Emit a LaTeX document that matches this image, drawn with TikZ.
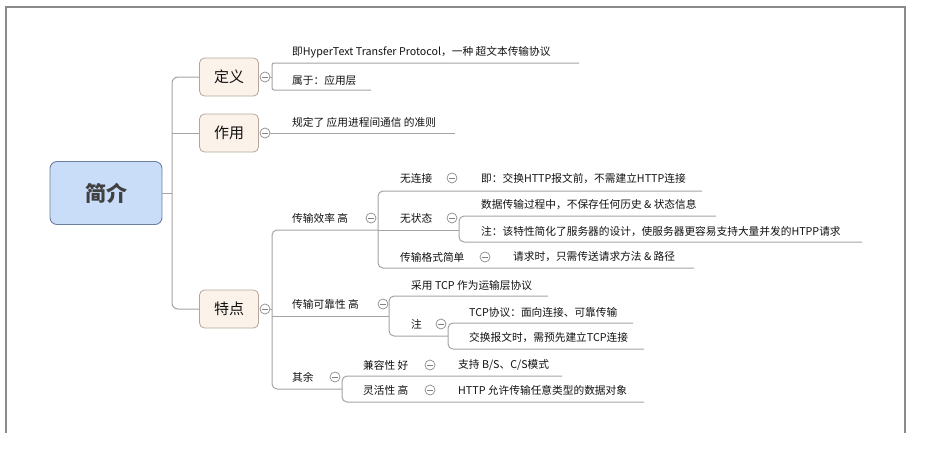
\documentclass[tikz,border=0pt]{standalone}
\usepackage{fontspec}
\setmainfont{Noto Sans CJK SC}
\definecolor{lnc}{HTML}{A3A3A3}
\definecolor{txtc}{HTML}{111111}
\definecolor{framec}{HTML}{8A8A8A}
\definecolor{rootfill}{HTML}{C9DDF8}
\definecolor{rootdraw}{HTML}{6C7F9E}
\definecolor{topfill}{HTML}{FBF2EA}
\definecolor{topdraw}{HTML}{B5A797}
\begin{document}
\begin{tikzpicture}[x=1pt,y=-1pt,
  ln/.style={draw=lnc, line width=1pt},
  rln/.style={ln, rounded corners=5pt},
  frameline/.style={draw=framec, line width=1.2pt},
  txt/.style={anchor=west, inner sep=0pt, font=\fontsize{10.7}{13}\selectfont, text=txtc},
  rootbox/.style={draw=rootdraw, fill=rootfill, line width=0.9pt, rounded corners=7pt,
    minimum width=112pt, minimum height=63pt, inner sep=0pt,
    font=\fontsize{21}{24}\selectfont\bfseries, text=black!75},
  topicbox/.style={draw=topdraw, fill=topfill, line width=0.8pt, rounded corners=5pt,
    minimum width=59pt, minimum height=38pt, inner sep=0pt,
    font=\fontsize{15}{18}\selectfont, text=txtc},
  fold/.style={circle, draw=black!45, fill=white, line width=0.7pt, minimum size=10pt, inner sep=0pt,
    path picture={\draw[black!50, line width=0.7pt]
      ([xshift=-2.6pt]path picture bounding box.center) -- ([xshift=2.6pt]path picture bounding box.center);}}
]
\useasboundingbox (0,0) rectangle (933,466);
% frame
\draw[frameline] (6,433) -- (6,7) -- (905,7) -- (905,433);

% root and main topics
\node[rootbox] (root) at (106,193) {简介};
\node[topicbox] (dy) at (229,77) {定义};
\node[topicbox] (zy) at (229,133) {作用};
\node[topicbox] (td) at (229,309) {特点};
\node[fold] (fdy) at (265,77) {};
\node[fold] (fzy) at (265,133) {};
\node[fold] (ftd) at (265,309) {};

\coordinate (rv) at (172,193);
\draw[ln] (root.east) -- (rv);
\draw[ln, rounded corners=6pt] (dy.west) -- (dy.west -| rv) -- (td.west -| rv) -- (td.west);
\draw[ln, rounded corners=3pt] (zy.west -| rv) -- (zy.west);

% 定义
\node[txt] (t11) at (292,52) {即HyperText Transfer Protocol，一种 超文本传输协议};
\node[txt] (t12) at (292,80) {属于：应用层};
\coordinate (u11) at (579,63);
\coordinate (u12) at (371,90);
\coordinate (v1) at (272,77);
\draw[ln] (fdy.east) -- (v1);
\draw[ln, rounded corners=2pt] (u11) -- (u11 -| v1) -- (u12 -| v1) -- (u12);

% 作用
\node[txt] (t21) at (292,122) {规定了 应用进程间通信 的准则};
\coordinate (u21) at (455,133);
\draw[ln] (fzy.east) -- (u21);

% 特点
\coordinate (v3) at (272,309);
\coordinate (u31) at (378,230);
\coordinate (u32) at (389,316);
\coordinate (u33) at (342,389);
\draw[ln] (ftd.east) -- (v3);
\draw[rln] (u31) -- (u31 -| v3) -- (u33 -| v3) -- (u33);
\draw[ln] (u32 -| v3) -- (u32);

% 传输效率 高
\node[txt] (t31) at (292,218) {传输效率 高};
\node[fold] (f31) at (371,218) {};
\node[txt] (t311) at (400,178) {无连接};
\node[fold] (f311) at (452,178) {};
\node[txt] (t3111) at (481,179) {即：交换HTTP报文前，不需建立HTTP连接};
\node[txt] (t312) at (400,218) {无状态};
\node[fold] (f312) at (452,218) {};
\node[txt] (t3121) at (481,205) {数据传输过程中，不保存任何历史 \& 状态信息};
\node[txt] (t3122) at (481,232) {注：该特性简化了服务器的设计，使服务器更容易支持大量并发的HTPP请求};
\node[txt] (t313) at (400,257) {传输格式简单};
\node[fold] (f313) at (485,257) {};
\node[txt] (t3131) at (513,257) {请求时，只需传送请求方法 \& 路径};
\coordinate (u311) at (702,191);
\coordinate (u313) at (694,268);
\coordinate (u312) at (459,230);
\coordinate (u3121) at (716,216);
\coordinate (u3122) at (862,242);
\draw[rln] (u311) -- (u311 -| u31) -- (u313 -| u31) -- (u313);
\draw[ln] (u31) -- (u312);
\draw[rln] (u3121) -- (u3121 -| u312) -- (u3122 -| u312) -- (u3122);

% 传输可靠性 高
\node[txt] (t32) at (292,304) {传输可靠性 高};
\node[fold] (f32) at (383,304) {};
\node[txt] (t321) at (411,285) {采用 TCP 作为运输层协议};
\node[txt] (t322) at (411,324) {注};
\node[fold] (f322) at (441,324) {};
\node[txt] (t3221) at (469,312) {TCP协议：面向连接、可靠传输};
\node[txt] (t3222) at (469,338) {交换报文时，需预先建立TCP连接};
\coordinate (u321) at (548,296);
\coordinate (u322) at (448,336);
\coordinate (u3221) at (633,323);
\coordinate (u3222) at (644,349);
\draw[rln] (u321) -- (u321 -| u32) -- (u322 -| u32) -- (u322);
\draw[rln] (u3221) -- (u3221 -| u322) -- (u3222 -| u322) -- (u3222);

% 其余
\node[txt] (t33) at (292,377) {其余};
\node[fold] (f33) at (335,377) {};
\node[txt] (t331) at (363,365) {兼容性 好};
\node[fold] (f331) at (430,365) {};
\node[txt] (t3311) at (458,365) {支持 B/S、C/S模式};
\node[txt] (t332) at (363,390) {灵活性 高};
\node[fold] (f332) at (430,390) {};
\node[txt] (t3321) at (458,390) {HTTP 允许传输任意类型的数据对象};
\coordinate (u331) at (562,376);
\coordinate (u332) at (644,402);
\draw[rln] (u331) -- (u331 -| u33) -- (u332 -| u33) -- (u332);
\end{tikzpicture}
\end{document}
